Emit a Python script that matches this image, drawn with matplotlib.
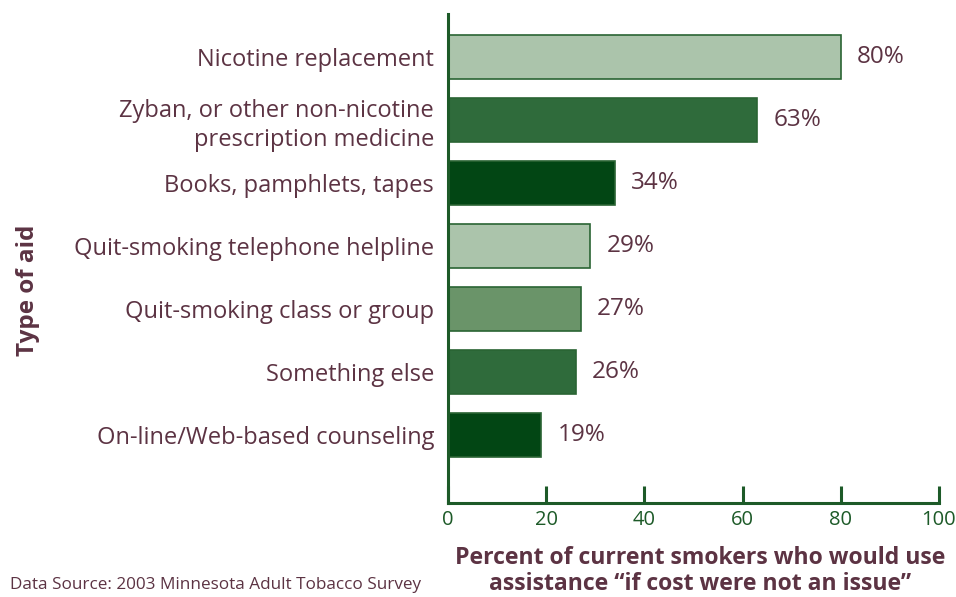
import matplotlib
matplotlib.use("Agg")
import matplotlib.pyplot as plt

categories = [
    "Nicotine replacement",
    "Zyban, or other non-nicotine\nprescription medicine",
    "Books, pamphlets, tapes",
    "Quit-smoking telephone helpline",
    "Quit-smoking class or group",
    "Something else",
    "On-line/Web-based counseling",
]
values = [80, 63, 34, 29, 27, 26, 19]
bar_colors = ["#abc4ab", "#2f6b3b", "#024614", "#abc4ab", "#6a9469", "#2f6b3b", "#024614"]
xticks = [0, 20, 40, 60, 80, 100]

text_color = "#5c3343"
green = "#1d5a28"

plt.rcParams['font.family'] = ['Open Sans', 'DejaVu Sans']

fig = plt.figure(figsize=(9.56, 5.97), dpi=100)
ax = fig.add_axes([0.4686, 0.1574, 0.5136, 0.8191])

ypos = list(range(len(categories)))
ax.barh(ypos, values, height=0.7, color=bar_colors, edgecolor="#2a6433", linewidth=1.2, zorder=2)
for y, v in zip(ypos, values):
    ax.text(v + 3.3, y, f"{v}%", va="center", ha="left", fontsize=17.5, color=text_color)

ax.set_xlim(0, 100)
ax.set_ylim(6 + 1.08, -0.68)
ax.set_yticks(ypos)
ax.set_yticklabels(categories, fontsize=17, color=text_color, linespacing=1.3)
ax.tick_params(axis='y', length=0, pad=10)
ax.set_xticks(xticks)
ax.set_xticklabels([str(t) for t in xticks], fontsize=14.5, color=green)
ax.tick_params(axis='x', direction='in', length=12, width=2.2, color=green, pad=5)

for s in ['top', 'right']:
    ax.spines[s].set_visible(False)
for s in ['left', 'bottom']:
    ax.spines[s].set_color(green)
    ax.spines[s].set_linewidth(2.2)

fig.text(700 / 956, 1 - 571 / 597, "Percent of current smokers who would use\nassistance \u201cif cost were not an issue\u201d",
         ha="center", va="center", fontsize=16.6, fontweight="bold", color=text_color, linespacing=1.1)
fig.text(28 / 956, 1 - 290 / 597, "Type of aid", rotation=90, ha="center", va="center",
         fontsize=17.5, fontweight="bold", color=text_color)
fig.text(10 / 956, 1 - 585 / 597, "Data Source: 2003 Minnesota Adult Tobacco Survey",
         ha="left", va="center", fontsize=12.3, color=text_color)

fig.savefig("out.png", dpi=100)
